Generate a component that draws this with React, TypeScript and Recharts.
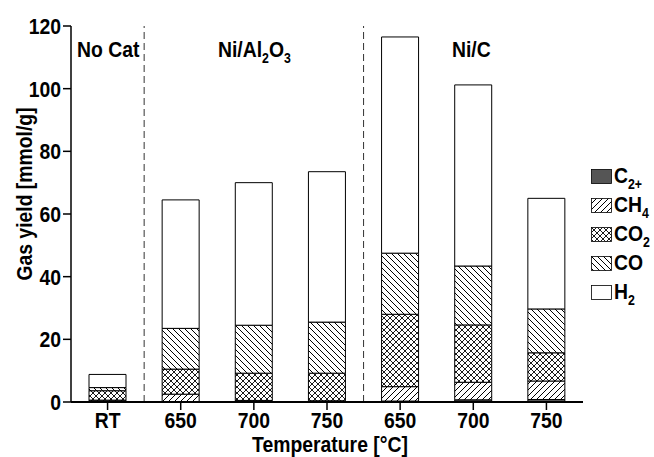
import React from 'react';
import { BarChart, Bar, XAxis, YAxis, ReferenceLine } from 'recharts';

// 7 categories, three groups (No Cat | Ni/Al2O3 | Ni/C)
const categories = ['RT', '650', '700', '750', '650', '700', '750'];
const c2 = [0.3, 0, 0, 0, 0.3, 0.7, 0.8];
const ch4 = [0.3, 2.5, 0.5, 0.4, 4.6, 5.6, 5.9];
const co2 = [3.0, 8.0, 8.7, 8.8, 23.1, 18.3, 9.0];
const co = [1.0, 13.0, 15.3, 16.3, 19.5, 18.8, 14.0];
const h2 = [4.2, 41.0, 45.5, 48.0, 69.0, 57.8, 35.3];

const yTicks = [0, 20, 40, 60, 80, 100, 120];
const yMinor = [0, 10, 20, 30, 40, 50, 60, 70, 80, 90, 100, 110, 120];
const xTicks = [0, 1, 2, 3, 4, 5, 6];
const xMinor = [0.5, 1.5, 2.5, 3.5, 4.5, 5.5];
const xTop = [0, 0.5, 1, 1.5, 2, 2.5, 3, 3.5, 4, 4.5, 5, 5.5, 6];

const data = categories.map((c, i) => ({ x: i, c2: c2[i], ch4: ch4[i], co2: co2[i], co: co[i], h2: h2[i] }));

const font = '"Liberation Sans", Arial, sans-serif';
const SX = 0.88; // text in the original is a condensed bold sans

const XTick = (props: any) => {
  const { x, y, payload } = props;
  return (
    <text transform={`translate(${x},${y + 16}) scale(${SX},1)`} textAnchor="middle"
      fontFamily={font} fontWeight={700} fontSize={22} fill="#000">
      {categories[payload.value]}
    </text>
  );
};

const YTick = (props: any) => {
  const { x, y, payload } = props;
  return (
    <text transform={`translate(${x},${y + 8}) scale(${SX},1)`} textAnchor="end"
      fontFamily={font} fontWeight={700} fontSize={22} fill="#000">
      {payload.value}
    </text>
  );
};

const legendItems = [
  { key: 'c2', main: 'C', sub: '2+', fill: '#555' },
  { key: 'ch4', main: 'CH', sub: '4', fill: 'url(#pCH4)' },
  { key: 'co2', main: 'CO', sub: '2', fill: 'url(#pCO2)' },
  { key: 'co', main: 'CO', sub: '', fill: 'url(#pCO)' },
  { key: 'h2', main: 'H', sub: '2', fill: '#fff' },
];

const Patterns = () => (
  <defs>
    <pattern id="pCO" patternUnits="userSpaceOnUse" width="6" height="6">
      <rect width="6" height="6" fill="#fff" />
      <path d="M0,0 L6,6 M-1,5 L1,7 M5,-1 L7,1" stroke="#000" strokeWidth="1" />
    </pattern>
    <pattern id="pCH4" patternUnits="userSpaceOnUse" width="6" height="6">
      <rect width="6" height="6" fill="#fff" />
      <path d="M0,6 L6,0 M-1,1 L1,-1 M5,7 L7,5" stroke="#000" strokeWidth="1" />
    </pattern>
    <pattern id="pCO2" patternUnits="userSpaceOnUse" width="6" height="6">
      <rect width="6" height="6" fill="#fff" />
      <path d="M0,0 L6,6 M-1,5 L1,7 M5,-1 L7,1 M0,6 L6,0 M-1,1 L1,-1 M5,7 L7,5" stroke="#000" strokeWidth="0.9" />
    </pattern>
  </defs>
);

export default function App() {
  const bold = {
    fontFamily: font, fontWeight: 700, fontSize: 22, color: '#000', position: 'absolute' as const,
    whiteSpace: 'nowrap' as const, lineHeight: '24px',
  };
  const sub = { fontSize: 14, verticalAlign: '-6px', lineHeight: 0 };
  return (
    <div style={{ position: 'absolute', left: 0, top: 0, width: 654, height: 457, background: '#fff' }}>
      <svg width={0} height={0} style={{ position: 'absolute' }}>
        <Patterns />
      </svg>
      <BarChart width={654} height={457} data={data} margin={{ top: 26, right: 71, bottom: 0, left: 0 }} barSize={37}>
        <XAxis xAxisId="main" dataKey="x" type="number" domain={[-0.5, 6.5]} ticks={xTicks}
          tick={<XTick />} tickSize={8} height={55}
          axisLine={{ stroke: '#000', strokeWidth: 2 }} tickLine={{ stroke: '#000', strokeWidth: 1.5 }} interval={0} />
        <XAxis xAxisId="minor" dataKey="x" type="number" domain={[-0.5, 6.5]} ticks={xMinor} mirror tick={false}
          tickSize={4} height={0} axisLine={false} tickLine={{ stroke: '#000' }} />
        <XAxis xAxisId="top" orientation="top" dataKey="x" type="number" domain={[-0.5, 6.5]} ticks={xTop} mirror
          tick={false} tickSize={4} height={0} axisLine={{ stroke: '#000', strokeWidth: 1.5 }} tickLine={{ stroke: '#000' }} />
        <YAxis yAxisId="left" domain={[0, 120]} ticks={yTicks} width={71} tick={<YTick />} tickSize={8}
          axisLine={{ stroke: '#000', strokeWidth: 1.5 }} tickLine={{ stroke: '#000', strokeWidth: 1.5 }} interval={0} />
        <YAxis yAxisId="right" orientation="right" domain={[0, 120]} ticks={yMinor} mirror tick={false} tickSize={4}
          width={0} axisLine={{ stroke: '#000', strokeWidth: 1.5 }} tickLine={{ stroke: '#000' }} />
        <ReferenceLine xAxisId="main" yAxisId="left" x={0.5} stroke="#333" strokeDasharray="7 4" />
        <ReferenceLine xAxisId="main" yAxisId="left" x={3.5} stroke="#333" strokeDasharray="7 4" />
        <Bar xAxisId="main" yAxisId="left" dataKey="c2" stackId="a" fill="#555" stroke="#000" isAnimationActive={false} />
        <Bar xAxisId="main" yAxisId="left" dataKey="ch4" stackId="a" fill="url(#pCH4)" stroke="#000" isAnimationActive={false} />
        <Bar xAxisId="main" yAxisId="left" dataKey="co2" stackId="a" fill="url(#pCO2)" stroke="#000" isAnimationActive={false} />
        <Bar xAxisId="main" yAxisId="left" dataKey="co" stackId="a" fill="url(#pCO)" stroke="#000" isAnimationActive={false} />
        <Bar xAxisId="main" yAxisId="left" dataKey="h2" stackId="a" fill="#fff" stroke="#000" isAnimationActive={false} />
      </BarChart>

      {/* group labels */}
      <div style={{ ...bold, left: 77, top: 38, transform: `scaleX(${SX})`, transformOrigin: 'left' }}>No Cat</div>
      <div style={{ ...bold, left: 218, top: 38, transform: `scaleX(${SX})`, transformOrigin: 'left' }}>
        Ni/Al<span style={sub}>2</span>O<span style={sub}>3</span>
      </div>
      <div style={{ ...bold, left: 452, top: 38, transform: `scaleX(${SX})`, transformOrigin: 'left' }}>Ni/C</div>

      {/* axis titles */}
      <div style={{ ...bold, left: 25, top: 194, transform: `translate(-50%, -50%) rotate(-90deg) scaleX(${SX})` }}>Gas yield [mmol/g]</div>
      <div style={{ ...bold, left: 330, top: 445, lineHeight: '20px', transform: `translate(-50%, -50%) scaleX(${SX})` }}>Temperature [°C]</div>

      {/* legend */}
      {legendItems.map((it, i) => (
        <div key={it.key} style={{ ...bold, left: 591, top: 164 + i * 29, display: 'flex', alignItems: 'center' }}>
          <svg width={21} height={15} style={{ marginRight: 2 }}>
            <rect x={0.5} y={0.5} width={20} height={14} fill={it.fill} stroke="#000" strokeWidth={0.8} />
          </svg>
          <span style={{ transform: `scaleX(${SX})`, transformOrigin: 'left', display: 'inline-block' }}>
            {it.main}{it.sub && <span style={sub}>{it.sub}</span>}
          </span>
        </div>
      ))}
    </div>
  );
}
